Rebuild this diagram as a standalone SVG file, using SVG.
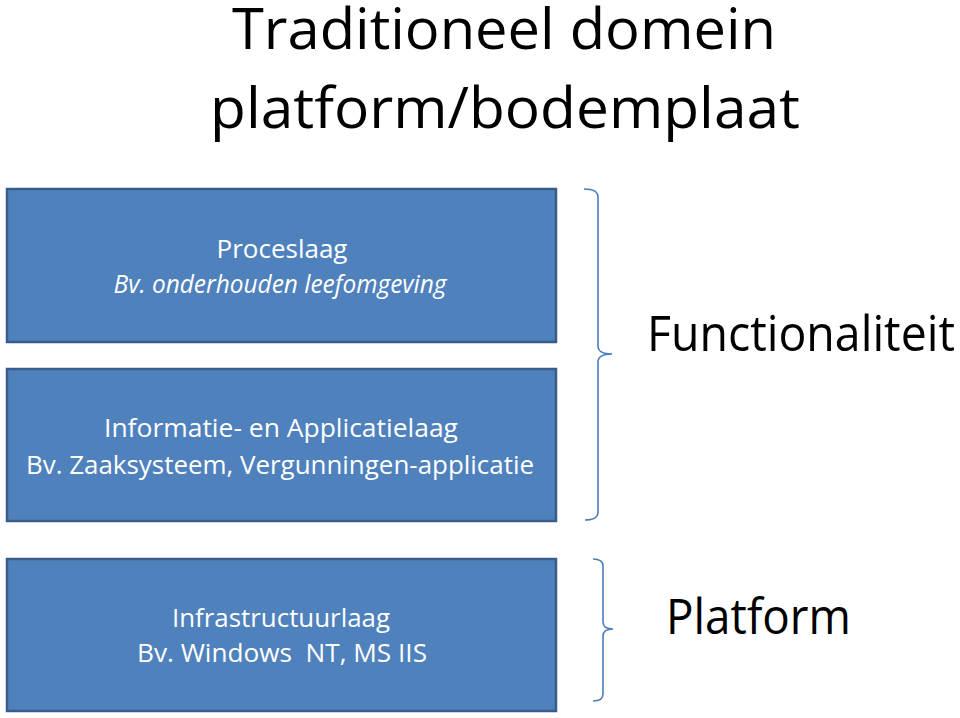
<svg xmlns="http://www.w3.org/2000/svg" width="960" height="718" viewBox="0 0 960 718">
<style>
.box{fill:#4F81BD;stroke:#385D8A;stroke-width:2.5}
.bt{font-family:"Open Sans","Noto Sans","Liberation Sans",sans-serif;fill:#FFFFFF;font-size:26px;text-anchor:middle}
.it{font-style:italic}
.big{font-family:"Open Sans","Noto Sans","Liberation Sans",sans-serif;fill:#000000}
.brace{fill:none;stroke:#4A7EBB;stroke-width:1.6}
</style>
<rect width="960" height="718" fill="#FFFFFF"/>
<g id="title">
<text class="big" x="504" y="49" font-size="56" text-anchor="middle" textLength="544" lengthAdjust="spacingAndGlyphs">Traditioneel domein</text>
<text class="big" x="505" y="128" font-size="56" text-anchor="middle" textLength="590" lengthAdjust="spacingAndGlyphs">platform/bodemplaat</text>
</g>
<g id="proceslaag">
<rect class="box" x="7" y="189" width="549" height="153"/>
<text class="bt" x="282" y="258" textLength="131" lengthAdjust="spacingAndGlyphs">Proceslaag</text>
<text class="bt it" x="280" y="293" textLength="333" lengthAdjust="spacingAndGlyphs">Bv. onderhouden leefomgeving</text>
</g>
<g id="applicatielaag">
<rect class="box" x="7" y="369" width="549" height="152"/>
<text class="bt" x="281" y="437" textLength="354" lengthAdjust="spacingAndGlyphs">Informatie- en Applicatielaag</text>
<text class="bt" x="280" y="474" textLength="508" lengthAdjust="spacingAndGlyphs">Bv. Zaaksysteem, Vergunningen-applicatie</text>
</g>
<g id="infrastructuurlaag">
<rect class="box" x="7" y="559" width="549" height="152"/>
<text class="bt" x="281" y="627" textLength="218" lengthAdjust="spacingAndGlyphs">Infrastructuurlaag</text>
<text class="bt" x="282" y="662" textLength="290" lengthAdjust="spacingAndGlyphs" xml:space="preserve" style="white-space:pre">Bv. Windows  NT, MS IIS</text>
</g>
<g id="connectors">
<path class="brace" d="M584,189 Q598,189 598,197 L598,346 Q598,354 612,354 Q598,354 598,362 L598,512 Q598,520 585,520"/>
<path class="brace" d="M593,559 Q603,559 603,566 L603,622 Q603,629 613,629 Q603,629 603,636 L603,694 Q603,701 593,701"/>
</g>
<g id="functionaliteit">
<text class="big" x="647" y="351" font-size="50" textLength="308" lengthAdjust="spacingAndGlyphs">Functionaliteit</text>
</g>
<g id="platform">
<text class="big" x="666" y="634" font-size="50" textLength="185" lengthAdjust="spacingAndGlyphs">Platform</text>
</g>
</svg>
